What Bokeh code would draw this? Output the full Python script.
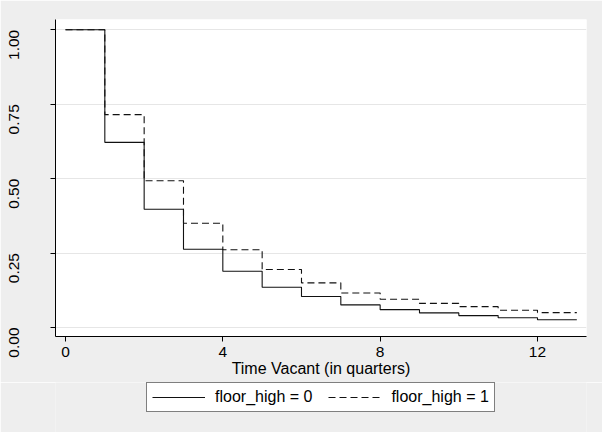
import math
from bokeh.plotting import figure
from bokeh.layouts import column
from bokeh.models import (Range1d, FixedTicker, PrintfTickFormatter, Legend, LegendItem)
from bokeh.embed import file_html
from bokeh.resources import INLINE

# Kaplan-Meier survival estimates by quarter (step values)
quarters = [0, 1, 2, 3, 4, 5, 6, 7, 8, 9, 10, 11, 12, 13]
surv_floor0 = [1.00, 0.622, 0.397, 0.263, 0.189, 0.135, 0.104, 0.076, 0.060, 0.049, 0.040, 0.033, 0.026, 0.026]
surv_floor1 = [1.00, 0.715, 0.493, 0.350, 0.261, 0.195, 0.150, 0.116, 0.095, 0.081, 0.070, 0.058, 0.050, 0.050]
x_ticks = [0, 4, 8, 12]
y_ticks = [0.0, 0.25, 0.5, 0.75, 1.0]
label0 = "floor_high = 0"
label1 = "floor_high = 1"
x_title = "Time Vacant (in quarters)"

FONT = "Liberation Sans"
BG = "#eeeeee"
LINE = "#111111"
DASH = "7 4"

p = figure(width=602, height=382, output_backend="svg", toolbar_location=None,
           x_range=Range1d(-0.254, 13.246), y_range=Range1d(-0.0302, 1.0346),
           min_border_left=55, min_border_right=16, min_border_top=19, min_border_bottom=46)

p.border_fill_color = BG
p.background_fill_color = "white"
p.outline_line_color = None

r0 = p.step(quarters, surv_floor0, mode="after", line_color=LINE, line_width=1.1)
r1 = p.step(quarters, surv_floor1, mode="after", line_color=LINE, line_width=1.1,
            line_dash=DASH)

# grids
p.xgrid.visible = False
p.ygrid.ticker = FixedTicker(ticks=y_ticks)
p.ygrid.grid_line_color = "#e6e6e6"
p.ygrid.grid_line_width = 1

# x axis
xa = p.xaxis[0]
xa.ticker = FixedTicker(ticks=x_ticks)
xa.axis_label = x_title
xa.axis_label_text_font = FONT
xa.axis_label_text_font_size = "16px"
xa.axis_label_text_font_style = "normal"
xa.axis_label_text_color = "black"
xa.axis_label_standoff = 0
xa.major_label_text_font = FONT
xa.major_label_text_font_size = "15.5px"
xa.major_label_text_color = "black"
xa.major_label_standoff = 5
xa.major_tick_out = 5
xa.major_tick_in = 0
xa.minor_tick_line_color = None
xa.axis_line_color = "black"
xa.major_tick_line_color = "black"

# y axis
ya = p.yaxis[0]
ya.ticker = FixedTicker(ticks=y_ticks)
ya.formatter = PrintfTickFormatter(format="%.2f")
ya.major_label_orientation = math.pi / 2
ya.major_label_text_font = FONT
ya.major_label_text_font_size = "15.5px"
ya.major_label_text_color = "black"
ya.major_label_standoff = 36
ya.major_tick_out = 5
ya.major_tick_in = 0
ya.minor_tick_line_color = None
ya.axis_line_color = "black"
ya.major_tick_line_color = "black"

# legend strip below the plot (its series sit outside its view; only the keys show)
lg = figure(width=602, height=50, output_backend="svg", toolbar_location=None,
            x_range=Range1d(-3, -2), y_range=Range1d(0, 1),
            x_axis_type=None, y_axis_type=None,
            min_border_left=0, min_border_right=0, min_border_top=0, min_border_bottom=0)
lg.border_fill_color = BG
lg.background_fill_color = BG
lg.outline_line_color = None
lg.xgrid.visible = False
lg.ygrid.visible = False
k0 = lg.step(quarters, surv_floor0, mode="after", line_color=LINE, line_width=1.1)
k1 = lg.step(quarters, surv_floor1, mode="after", line_color=LINE, line_width=1.1,
             line_dash=DASH)

legend = Legend(items=[LegendItem(label=label0, renderers=[k0]),
                       LegendItem(label=label1, renderers=[k1])],
                location=(91, 20), orientation="horizontal")
legend.label_text_font = FONT
legend.label_text_font_size = "16px"
legend.label_text_color = "black"
legend.border_line_color = "black"
legend.border_line_width = 1
legend.background_fill_color = "white"
legend.background_fill_alpha = 1
legend.glyph_width = 53
legend.glyph_height = 18
legend.label_height = 18
legend.label_standoff = 10
legend.spacing = 16
legend.padding = 5
legend.margin = 0
lg.add_layout(legend, "center")

layout = column(p, lg, spacing=0)
open("out.html", "w").write(file_html(layout, INLINE))
